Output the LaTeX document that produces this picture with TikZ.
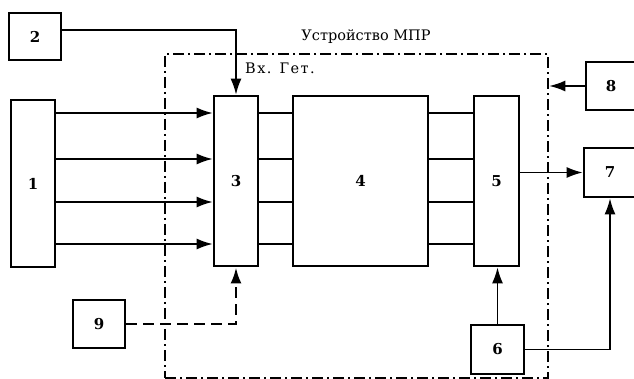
\documentclass[tikz,border=0pt]{standalone}
\usepackage{fontspec}
\setmainfont{DejaVu Serif}
\usetikzlibrary{arrows.meta,positioning}

\begin{document}
\begin{tikzpicture}[
    x=1pt, y=-1pt,
    font=\fontsize{14.5}{17}\selectfont,
    blk/.style={draw, rectangle, line width=2.8pt, inner sep=0pt, fill=white,
        font=\fontsize{15}{17}\selectfont\bfseries},
    arr/.style={draw, line width=1.5pt, -{Latex[length=16pt,width=11pt]}},
    link/.style={draw, line width=1.5pt},
    mprframe/.style={draw, rectangle, line width=2.6pt, inner sep=0pt,
        dash pattern=on 11pt off 4pt on 2pt off 4pt}
]
    \useasboundingbox (0,0) rectangle (634,379);

    % Device frame
    \node[mprframe, minimum width=383pt, minimum height=324pt] (mpr) at (356.5,216) {};
    \node[anchor=south] (mprlbl) at (366,47) {Устройство МПР};
    \node[anchor=north west, inner sep=0pt] (vxget) at (245,63)
        {\addfontfeature{LetterSpace=10}Вх. Гет.};

    % Blocks
    \node[blk, minimum width=44pt, minimum height=167pt] (b1) at (33,183.5) {1};
    \node[blk, minimum width=52pt, minimum height=47pt] (b2) at (35,36.5) {2};
    \node[blk, minimum width=44pt, minimum height=170pt] (b3) at (236,181) {3};
    \node[blk, minimum width=135pt, minimum height=170pt] (b4) at (360.5,181) {4};
    \node[blk, minimum width=45pt, minimum height=170pt] (b5) at (496.5,181) {5};
    \node[blk, minimum width=53pt, minimum height=49pt] (b6) at (497.5,349.5) {6};
    \node[blk, minimum width=52pt, minimum height=49pt] (b7) at (610,172.5) {7};
    \node[blk, minimum width=50pt, minimum height=48pt] (b8) at (611,86) {8};
    \node[blk, minimum width=52pt, minimum height=48pt] (b9) at (99,324) {9};

    % Bus lines 1 -> 3 -> 4 -> 5
    \foreach \yy in {113,159,202,244} {
        \path[arr] (b1.east |- 0,\yy) -- (b3.west |- 0,\yy);
        \path[link] (b3.east |- 0,\yy) -- (b4.west |- 0,\yy);
        \path[link] (b4.east |- 0,\yy) -- (b5.west |- 0,\yy);
    }

    % Connections
    \path[arr] (b2.east |- 0,30) -| (b3.north);
    \path[arr, dash pattern=on 11pt off 6pt, line width=2.6pt] (b9.east) -| (b3.south);
    \path[arr] (b5.east |- b7.west) -- (b7.west);
    \path[arr] (b8.west) -- (b8.west -| mpr.east);
    \path[arr] (b6.north) -- (b6.north |- b5.south);
    \path[arr] (b6.east) -| (b7.south);

\end{tikzpicture}
\end{document}
